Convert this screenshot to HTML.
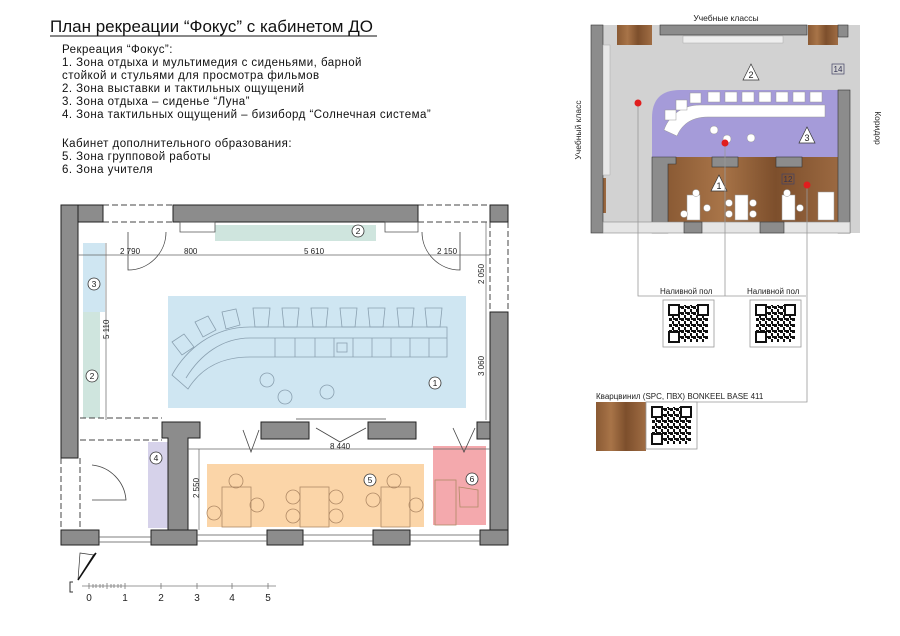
<!DOCTYPE html>
<html><head><meta charset="utf-8"><style>
html,body{margin:0;padding:0;background:#fff;}
svg{display:block;font-family:"Liberation Sans","DejaVu Sans",sans-serif;}
</style></head><body>
<svg width="900" height="636" viewBox="0 0 900 636" xmlns="http://www.w3.org/2000/svg">
<defs>
<pattern id="qr" width="6" height="6" patternUnits="userSpaceOnUse">
<rect x="0" y="0" width="3" height="3" fill="#111"/><rect x="3" y="3" width="2" height="3" fill="#111"/><rect x="4" y="0" width="2" height="2" fill="#111"/>
</pattern>
<g id="qrc">
<rect x="0" y="0" width="51" height="47" fill="#fff" stroke="#999" stroke-width="0.8"/>
<rect x="6" y="5" width="39" height="37" fill="url(#qr)"/>
<rect x="6" y="5" width="10" height="10" fill="#fff" stroke="#111" stroke-width="2"/>
<rect x="35" y="5" width="10" height="10" fill="#fff" stroke="#111" stroke-width="2"/>
<rect x="6" y="32" width="10" height="10" fill="#fff" stroke="#111" stroke-width="2"/>
</g>
<linearGradient id="wood" x1="0" y1="0" x2="1" y2="0">
<stop offset="0" stop-color="#8a5a34"/><stop offset="0.3" stop-color="#a87448"/><stop offset="0.6" stop-color="#7d4f2c"/><stop offset="1" stop-color="#a06d44"/>
</linearGradient>
</defs>

<!-- Title -->
<text x="50" y="32" font-size="17" fill="#111">План рекреации “Фокус” с кабинетом ДО</text>
<line x1="50" y1="36" x2="377" y2="36" stroke="#111" stroke-width="1"/>
<g font-size="11.5" fill="#111" letter-spacing="0.45">
<text x="62" y="53">Рекреация “Фокус”:</text>
<text x="62" y="66">1. Зона отдыха и мультимедия с сиденьями, барной</text>
<text x="62" y="79">стойкой и стульями для просмотра фильмов</text>
<text x="62" y="92">2. Зона выставки и тактильных ощущений</text>
<text x="62" y="105">3. Зона отдыха – сиденье “Луна”</text>
<text x="62" y="118">4. Зона тактильных ощущений – бизиборд “Солнечная система”</text>
<text x="62" y="147">Кабинет дополнительного образования:</text>
<text x="62" y="160">5. Зона групповой работы</text>
<text x="62" y="173">6. Зона учителя</text>
</g>

<!-- ============ MAIN PLAN ============ -->
<rect x="168" y="296" width="298" height="112" fill="#cfe6f2"/>
<rect x="215" y="225" width="161" height="16" fill="#cfe5de"/>
<rect x="83" y="243" width="22" height="69" fill="#cfe6f2"/>
<rect x="83" y="312" width="17" height="106" fill="#cfe5de"/>
<rect x="148" y="442" width="21" height="86" fill="#d6d2ea"/>
<rect x="207" y="464" width="217" height="63" fill="#fbd5a8"/>
<rect x="433" y="446" width="53" height="79" fill="#f4a9ad"/>

<g fill="none" stroke="#444" stroke-width="1" stroke-dasharray="6,3">
<path d="M103,205 H173 M103,222 H173 M418,205 H490 M418,222 H490"/>
<path d="M490,222 V312 M508,222 V312"/>
<path d="M80,418 H162 M80,440 H162"/>
<path d="M61,458 V532 M80,458 V532"/>
</g>

<g fill="#8c8c8c" stroke="#222" stroke-width="1">
<rect x="61" y="205" width="42" height="17"/>
<rect x="173" y="205" width="245" height="17"/>
<rect x="490" y="205" width="18" height="17"/>
<rect x="61" y="205" width="17" height="253"/>
<rect x="490" y="312" width="18" height="220"/>
<path d="M162,422 H200 V438 H188 V532 H168 V438 H162 Z"/>
<rect x="261" y="422" width="48" height="17"/>
<rect x="368" y="422" width="48" height="17"/>
<rect x="477" y="422" width="13" height="17"/>
<rect x="61" y="530" width="38" height="15"/>
<rect x="151" y="530" width="46" height="15"/>
<rect x="267" y="530" width="36" height="15"/>
<rect x="373" y="530" width="37" height="15"/>
<rect x="480" y="530" width="28" height="15"/>
</g>
<g stroke="#555" stroke-width="0.8" fill="none">
<path d="M197,535 H267 M197,541 H267 M303,535 H373 M303,541 H373 M410,535 H480 M410,541 H480 M99,537 H151 M99,542 H151"/>
<path d="M180,222 H215 V232 H180 Z M385,222 H418 V232 H385 Z"/>
</g>
<g stroke="#444" stroke-width="0.8" fill="none">
<path d="M128,232 V270 A38,38 0 0 0 166,232"/>
<path d="M460,232 V270 A38,38 0 0 1 422,232"/>
<path d="M92,465 A38,38 0 0 1 126,500 H92"/>
<path d="M243,430 L251,452 L259,430 M316,428 L340,442 L366,428 M453,428 L464,452 L475,428"/>
<line x1="296" y1="419" x2="386" y2="419"/>
</g>

<g stroke="#666" stroke-width="0.7" fill="none">
<path d="M78,255 H490 M106,243 V420 M486,222 V420 M188,449 H490 M199,449 V530"/>
</g>
<g font-size="8" fill="#222">
<text x="120" y="254">2 790</text>
<text x="184" y="254">800</text>
<text x="304" y="254">5 610</text>
<text x="437" y="254">2 150</text>
<text x="330" y="449">8 440</text>
<text transform="translate(109,339) rotate(-90)">5 110</text>
<text transform="translate(484,284) rotate(-90)">2 050</text>
<text transform="translate(484,376) rotate(-90)">3 060</text>
<text transform="translate(199,498) rotate(-90)">2 550</text>
</g>

<g stroke="#8aa0b0" stroke-width="0.8" fill="none">
<path d="M447,327 L250,327 C212,327 186,350 172,375 L188,389 C203,365 225,357 250,357 L447,357 Z"/>
<path d="M447,338 L250,338 C222,338 200,355 186,378"/>
<path d="M275,338 V357 M295,338 V357 M315,338 V357 M334,338 V357 M353,338 V357 M372,338 V357 M391,338 V357 M410,338 V357 M429,338 V357"/>
<path d="M253,308 H270 L268,327 H255 Z M282,308 H299 L297,327 H284 Z M311,308 H328 L326,327 H313 Z M340,308 H357 L355,327 H342 Z M368,308 H385 L383,327 H370 Z M397,308 H414 L412,327 H399 Z M425,308 H442 L440,327 H427 Z"/>
<path d="M222,312 L236,309 L240,325 L226,329 Z M195,322 L208,316 L216,330 L203,337 Z M172,342 L184,334 L194,347 L182,355 Z"/>
<circle cx="267" cy="380" r="7"/><circle cx="285" cy="397" r="7"/><circle cx="327" cy="392" r="7"/>
<rect x="337" y="343" width="10" height="9"/>
</g>

<g stroke="#b08a66" stroke-width="0.8" fill="none">
<rect x="222" y="487" width="29" height="40"/><rect x="300" y="487" width="29" height="40"/><rect x="381" y="487" width="29" height="40"/>
<circle cx="236" cy="481" r="7"/><circle cx="214" cy="513" r="7"/><circle cx="257" cy="505" r="7"/>
<circle cx="293" cy="497" r="7"/><circle cx="293" cy="516" r="7"/><circle cx="336" cy="497" r="7"/><circle cx="336" cy="516" r="7"/>
<circle cx="373" cy="500" r="7"/><circle cx="394" cy="481" r="7"/><circle cx="416" cy="505" r="7"/>
<rect x="435" y="480" width="21" height="45"/><path d="M459,487 L478,490 V507 H460 Z"/>
</g>

<g font-size="8.5" fill="#222" text-anchor="middle">
<g fill="#fff" stroke="#333" stroke-width="0.8">
<circle cx="358" cy="231" r="6"/><circle cx="94" cy="284" r="6"/><circle cx="92" cy="376" r="6"/><circle cx="435" cy="383" r="6"/><circle cx="156" cy="458" r="6"/><circle cx="370" cy="480" r="6"/><circle cx="472" cy="479" r="6"/>
</g>
<text x="358" y="234">2</text><text x="94" y="287">3</text><text x="92" y="379">2</text><text x="435" y="386">1</text><text x="156" y="461">4</text><text x="370" y="483">5</text><text x="472" y="482">6</text>
</g>

<path d="M80,553 L94,555 L78,580 Z" fill="#fff" stroke="#333" stroke-width="0.7"/>
<path d="M94,555 L96,553 L78,580 Z" fill="#111" stroke="#111" stroke-width="1.5"/>
<path d="M73,582 H70 V592 H73" stroke="#333" fill="none"/>
<g stroke="#777" stroke-width="0.8">
<line x1="82" y1="586" x2="276" y2="586"/>
<path d="M89,583 V589 M125,583 V589 M161,583 V589 M197,583 V589 M232,583 V589 M268,583 V589 M107,583 V589"/>
<path d="M93,584 V588 M96,584 V588 M100,584 V588 M103,584 V588 M111,584 V588 M114,584 V588 M118,584 V588 M121,584 V588"/>
</g>
<g font-size="10" fill="#222" text-anchor="middle">
<text x="89" y="601">0</text><text x="125" y="601">1</text><text x="161" y="601">2</text><text x="197" y="601">3</text><text x="232" y="601">4</text><text x="268" y="601">5</text>
</g>

<!-- ============ RIGHT PLAN ============ -->
<text x="726" y="21" font-size="8.5" fill="#222" text-anchor="middle">Учебные классы</text>
<text transform="translate(581,130) rotate(-90)" font-size="8.5" fill="#222" text-anchor="middle">Учебный класс</text>
<text transform="translate(875,128) rotate(90)" font-size="8.5" fill="#222" text-anchor="middle">Коридор</text>

<rect x="591" y="25" width="269" height="208" fill="#d2d2d2"/>
<rect x="617" y="25" width="35" height="20" fill="url(#wood)"/>
<rect x="808" y="25" width="30" height="20" fill="url(#wood)"/>
<rect x="591" y="178" width="15" height="35" fill="url(#wood)"/>
<path d="M680,90 H848 V157 H652 V118 Q652,90 680,90 Z" fill="#a59bd9"/>
<rect x="667" y="157" width="181" height="65" fill="url(#wood)"/>
<g fill="#8c8c8c" stroke="#333" stroke-width="0.6">
<rect x="591" y="25" width="12" height="208"/>
<rect x="660" y="25" width="147" height="10"/>
<rect x="838" y="25" width="10" height="12"/>
<path d="M652,157 H676 V164 H668 V233 H652 Z"/>
<rect x="712" y="157" width="26" height="10"/>
<rect x="776" y="157" width="26" height="10"/>
<rect x="838" y="90" width="12" height="143"/>
<rect x="603" y="222" width="247" height="11" fill="#e5e5e5" stroke="#888"/>
<rect x="684" y="222" width="18" height="11"/><rect x="760" y="222" width="24" height="11"/>
</g>
<rect x="683" y="36" width="100" height="7" fill="#eee" stroke="#aaa" stroke-width="0.5"/>
<rect x="603" y="45" width="7" height="130" fill="#e8e8e8" stroke="#aaa" stroke-width="0.5"/>
<g fill="#fff" stroke="#999" stroke-width="0.5">
<path d="M825,105 L700,105 C680,105 668,118 664,130 L677,136 C682,124 692,117 708,117 L825,117 Z"/>
<rect x="708" y="92" width="12" height="10"/><rect x="725" y="92" width="12" height="10"/><rect x="742" y="92" width="12" height="10"/><rect x="759" y="92" width="12" height="10"/><rect x="776" y="92" width="12" height="10"/><rect x="793" y="92" width="12" height="10"/><rect x="810" y="92" width="12" height="10"/>
<rect x="690" y="93" width="11" height="10"/><rect x="676" y="100" width="11" height="10"/><rect x="665" y="110" width="11" height="10"/>
<circle cx="714" cy="130" r="4"/><circle cx="727" cy="139" r="4"/><circle cx="751" cy="138" r="4"/>
<rect x="687" y="195" width="13" height="25"/><rect x="735" y="195" width="13" height="25"/><rect x="782" y="195" width="13" height="25"/><rect x="818" y="192" width="16" height="28"/>
<circle cx="696" cy="193" r="3.5"/><circle cx="684" cy="214" r="3.5"/><circle cx="707" cy="208" r="3.5"/><circle cx="729" cy="203" r="3.5"/><circle cx="729" cy="214" r="3.5"/><circle cx="753" cy="203" r="3.5"/><circle cx="753" cy="214" r="3.5"/><circle cx="787" cy="193" r="3.5"/><circle cx="800" cy="208" r="3.5"/>
</g>
<g fill="#fff" stroke="#333" stroke-width="0.7">
<path d="M751,64 L759,80 H743 Z"/><path d="M807,127 L815,143 H799 Z"/><path d="M719,175 L727,191 H711 Z"/>
</g>
<g font-size="9" fill="#222" text-anchor="middle"><text x="751" y="78">2</text><text x="807" y="141">3</text><text x="719" y="189">1</text></g>
<rect x="832" y="64" width="12" height="10" fill="none" stroke="#446" stroke-width="0.7"/>
<text x="838" y="72" font-size="8" fill="#335" text-anchor="middle">14</text>
<rect x="782" y="174" width="12" height="10" fill="none" stroke="#446" stroke-width="0.7"/>
<text x="788" y="182" font-size="8" fill="#335" text-anchor="middle">12</text>
<g stroke="#999" stroke-width="0.8" fill="none">
<path d="M638,103 V296 H725 M725,143 V296 H806 M807,185 V402 H646"/>
</g>
<g fill="#e01e1e"><circle cx="638" cy="103" r="3.5"/><circle cx="725" cy="143" r="3.5"/><circle cx="807" cy="185" r="3.5"/></g>
<g font-size="8" fill="#222">
<text x="660" y="294">Наливной пол</text>
<text x="747" y="294">Наливной пол</text>
<text x="596" y="399">Кварцвинил (SPC, ПВХ) BONKEEL BASE 411</text>
</g>
<use href="#qrc" x="663" y="300"/>
<use href="#qrc" x="750" y="300"/>
<rect x="596" y="402" width="50" height="49" fill="url(#wood)"/>
<use href="#qrc" x="646" y="402"/>
</svg>
</body></html>
